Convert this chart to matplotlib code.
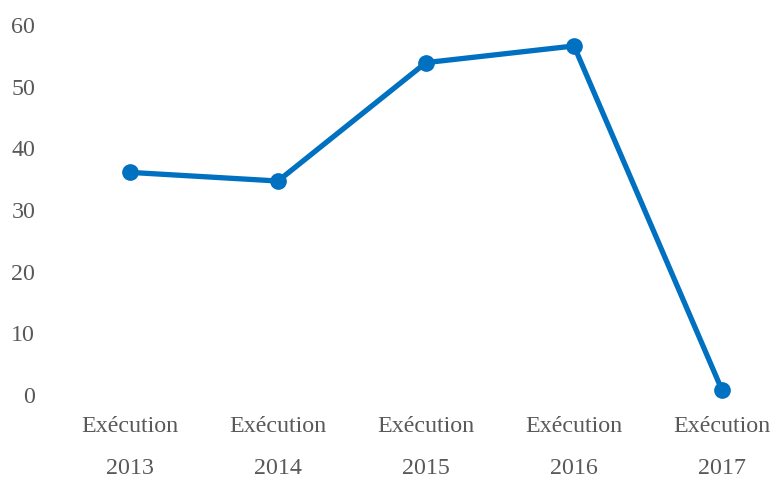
import matplotlib
matplotlib.use("Agg")
import matplotlib.pyplot as plt

categories = ["Exécution\n2013", "Exécution\n2014", "Exécution\n2015", "Exécution\n2016", "Exécution\n2017"]
values = [36.1, 34.7, 53.9, 56.6, 0.8]
yticks = [0, 10, 20, 30, 40, 50, 60]

W, H = 773, 478
fig = plt.figure(figsize=(W / 100, H / 100), dpi=100)
left, right = 56, 773
bottom, top = 395, 25
ax = fig.add_axes([left / W, (H - bottom) / H, (right - left) / W, (bottom - top) / H])

x = list(range(len(categories)))
ax.plot(x, values, color="#0070C0", linewidth=3.8, marker="o", markersize=11,
        solid_capstyle="round", clip_on=False)

ax.set_xlim(-0.5, (right - left) / 148 - 0.5)
ax.set_ylim(0, 60)
ax.set_yticks(yticks)
ax.set_xticks(x)
ax.set_xticklabels(categories, linespacing=2.3)
for s in ax.spines.values():
    s.set_visible(False)
ax.tick_params(axis="both", length=0, labelsize=17.3, labelcolor="#595959")
ax.tick_params(axis="y", pad=15)
ax.tick_params(axis="x", pad=15)
for lbl in ax.get_xticklabels() + ax.get_yticklabels():
    lbl.set_family("Liberation Serif")

fig.savefig("out.png", dpi=100, facecolor="white")
